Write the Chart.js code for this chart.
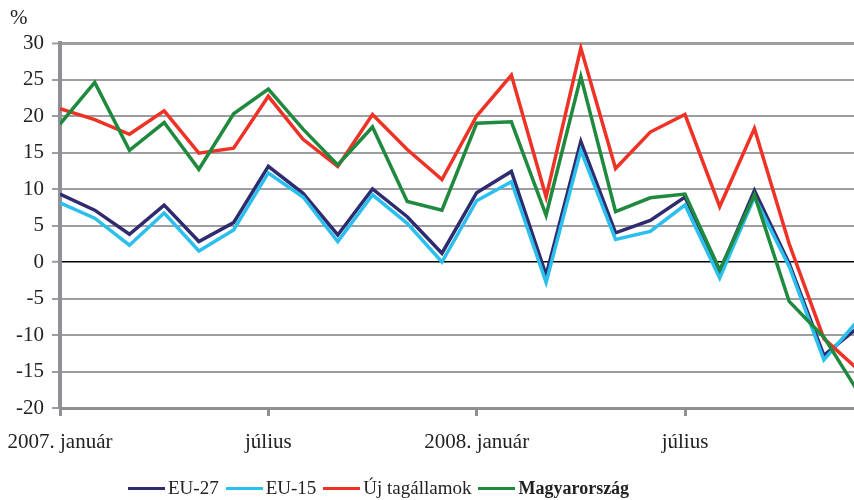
<!DOCTYPE html>
<html>
<head>
<meta charset="utf-8">
<script src="https://cdn.jsdelivr.net/npm/chart.js@4"></script>
<style>
  body { margin: 0; background: #fff; }
  #wrap { position: relative; width: 854px; height: 500px; font-family: "Liberation Serif", "DejaVu Serif", serif; color: #222; }
  #pct { position: absolute; left: 10px; top: 5px; font-size: 21px; }
  #legend { position: absolute; left: 128px; top: 477px; display: flex; align-items: center; font-size: 19px; white-space: nowrap; }
  #legend .item { display: flex; align-items: center; margin-right: 7px; }
  #legend .swatch { display: inline-block; width: 37px; height: 3px; margin-right: 3px; }
</style>
</head>
<body>
<div id="wrap">
  <canvas id="salesChart" width="854" height="500"></canvas>
  <div id="pct">%</div>
  <div id="legend"></div>
</div>
<script>
// havi adatok, 2007. január - 2008. december
var months = ['2007.01','2007.02','2007.03','2007.04','2007.05','2007.06','2007.07','2007.08','2007.09','2007.10','2007.11','2007.12',
              '2008.01','2008.02','2008.03','2008.04','2008.05','2008.06','2008.07','2008.08','2008.09','2008.10','2008.11','2008.12'];
var eu27 = [9.3, 7.1, 3.8, 7.8, 2.8, 5.4, 13.1, 9.4, 3.7, 10.0, 6.2, 1.2, 9.5, 12.4, -1.8, 16.5, 4.0, 5.7, 8.9, -1.3, 9.8, -0.2, -12.8, -8.9];
var eu15 = [8.1, 6.0, 2.3, 6.7, 1.5, 4.4, 12.2, 8.9, 2.8, 9.2, 5.3, 0.0, 8.4, 11.0, -2.8, 15.3, 3.1, 4.2, 7.8, -2.2, 8.9, -0.6, -13.4, -7.9];
var ujTagallamok = [21.0, 19.5, 17.5, 20.7, 14.9, 15.6, 22.7, 16.8, 13.1, 20.2, 15.4, 11.3, 20.0, 25.6, 8.9, 29.3, 12.8, 17.8, 20.2, 7.6, 18.3, 2.5, -10.5, -14.8];
var magyarorszag = [18.9, 24.6, 15.3, 19.1, 12.7, 20.3, 23.7, 18.2, 13.3, 18.5, 8.3, 7.1, 19.0, 19.2, 6.4, 25.4, 6.9, 8.8, 9.3, -1.1, 9.2, -5.4, -10.3, -17.9];

var xTickPos = [0, 6, 12, 18];
var xTickLabels = ['2007. január', 'július', '2008. január', 'július'];
var yTicks = [-20, -15, -10, -5, 0, 5, 10, 15, 20, 25, 30];

var series = [
    { label: 'EU-27', data: eu27, color: '#2f2b6f', bold: false },
    { label: 'EU-15', data: eu15, color: '#2bbfee', bold: false },
    { label: 'Új tagállamok', data: ujTagallamok, color: '#ee3326', bold: false },
    { label: 'Magyarország', data: magyarorszag, color: '#1f8a3e', bold: true }
];

function toPoints(arr) {
    return arr.map(function(v, i) { return { x: i, y: v }; });
}

var ctx = document.getElementById('salesChart').getContext('2d');
var chart = new Chart(ctx, {
    type: 'line',
    data: {
        datasets: series.map(function(s, i) {
            return {
                label: s.label,
                data: toPoints(s.data),
                borderColor: s.color,
                backgroundColor: s.color,
                borderWidth: 3.5,
                pointRadius: 0,
                tension: 0,
                order: series.length - i
            };
        })
    },
    options: {
        responsive: false,
        animation: false,
        layout: { padding: { top: 43, left: 0, right: 0, bottom: 0 } },
        plugins: { legend: { display: false }, tooltip: { enabled: false } },
        scales: {
            x: {
                type: 'linear',
                min: 0,
                max: (854 - 60) / (625 / 18),
                afterBuildTicks: function(scale) {
                    scale.ticks = xTickPos.map(function(v) { return { value: v }; });
                },
                afterFit: function(scale) {
                    scale.height = 92;
                    scale.paddingLeft = 0;
                    scale.paddingRight = 0;
                },
                border: { display: true, color: '#8f8f94', width: 3 },
                grid: { drawOnChartArea: false, drawTicks: true, tickLength: 8, tickWidth: 3, tickColor: '#8f8f94' },
                ticks: {
                    autoSkip: false,
                    maxRotation: 0,
                    padding: 14,
                    color: '#222',
                    font: { family: 'Liberation Serif', size: 21 },
                    callback: function(value, index) { return xTickLabels[index]; }
                }
            },
            y: {
                min: -20,
                max: 30,
                afterBuildTicks: function(scale) {
                    scale.ticks = yTicks.map(function(v) { return { value: v }; });
                },
                afterFit: function(scale) {
                    scale.width = 60;
                    scale.paddingTop = 0;
                    scale.paddingBottom = 0;
                },
                border: { display: true, color: '#8f8f94', width: 4 },
                grid: {
                    color: function(c) { return c.tick && c.tick.value === 0 ? '#000' : '#9d9da2'; },
                    lineWidth: function(c) {
                        if (!c.tick) return 2;
                        if (c.tick.value === 0) return 1.5;
                        if (c.tick.value === 30) return 3;
                        return 2;
                    },
                    drawTicks: true,
                    tickLength: 8,
                    tickColor: '#9d9da2',
                    tickWidth: 2
                },
                ticks: {
                    padding: 8,
                    color: '#222',
                    font: { family: 'Liberation Serif', size: 21 },
                    callback: function(value) { return String(value); }
                }
            }
        }
    }
});

// jelmagyarázat
var legend = document.getElementById('legend');
series.forEach(function(s) {
    var item = document.createElement('span');
    item.className = 'item';
    var sw = document.createElement('span');
    sw.className = 'swatch';
    sw.style.background = s.color;
    var txt = document.createElement('span');
    txt.textContent = s.label;
    if (s.bold) { txt.style.fontWeight = 'bold'; txt.style.fontSize = '18px'; }
    item.appendChild(sw);
    item.appendChild(txt);
    legend.appendChild(item);
});
</script>
</body>
</html>
